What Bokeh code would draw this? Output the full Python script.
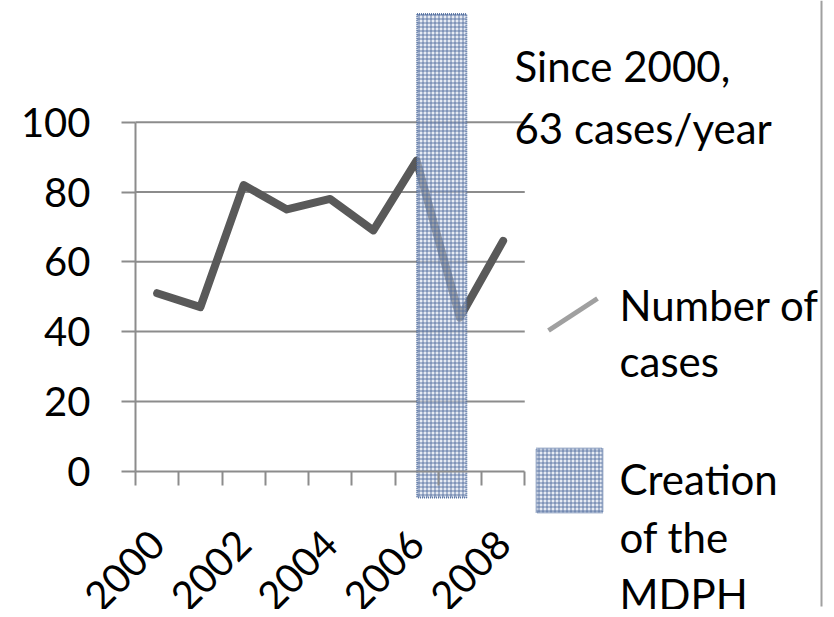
import math
from bokeh.plotting import figure
from bokeh.models import LinearAxis, FixedTicker, Range1d
from bokeh.core.properties import value
from bokeh.embed import file_html
from bokeh.resources import INLINE

# ---------------- data ----------------
years = [2000, 2001, 2002, 2003, 2004, 2005, 2006, 2007, 2008]
cases = [51, 47, 82, 75, 78, 69, 89, 44, 66]
x_tick_labels = ["2000", "2002", "2004", "2006", "2008"]
y_ticks = [0, 20, 40, 60, 80, 100]
grid_values = [20, 40, 60, 80, 100]
mdph_center = [2006.58]
mdph_width = [1.14]
mdph_top = [131]
mdph_bottom = [-7.5]
note_lines = ["Since 2000,", "63 cases/year"]
legend_line_text = ["Number of", "cases"]
legend_bar_text = ["Creation", "of the", "MDPH"]

# ---------------- layout ----------------
W, H = 826, 609
X0_PX = 135.0          # px of the left category edge (1999.5)
PX_PER_YEAR = 43.25
Y0_PX = 470.7          # px (from top) of value 0
PX_PER_UNIT = 3.49

x_start = 1999.5 - X0_PX / PX_PER_YEAR
x_end = x_start + W / PX_PER_YEAR
y_end = Y0_PX / PX_PER_UNIT
y_start = y_end - H / PX_PER_UNIT


def fx(px):  # pixel -> data x
    return x_start + px / PX_PER_YEAR


def fy(py):  # pixel (from top) -> data y
    return y_end - py / PX_PER_UNIT


FONT = "Lato"
FS = "42px"
TICK_FS = "40px"
GRID_COLOR = "#8c8c8c"

p = figure(width=W, height=H, x_range=Range1d(x_start, x_end),
           y_range=Range1d(y_start, y_end), output_backend="svg",
           toolbar_location=None, x_axis_location=None, y_axis_location=None,
           min_border=0, outline_line_color=None)
p.grid.visible = False
p.background_fill_color = "white"
p.border_fill_color = "white"

cat_left = years[0] - 0.5
cat_right = years[-1] + 0.5

# gridlines
p.segment(x0=[cat_left] * len(grid_values), x1=[cat_right] * len(grid_values),
          y0=grid_values, y1=grid_values, line_color=GRID_COLOR, line_width=2)

# axes
yaxis = LinearAxis(fixed_location=cat_left, bounds=(0, 100),
                   ticker=FixedTicker(ticks=y_ticks),
                   axis_line_color=GRID_COLOR, axis_line_width=2,
                   major_tick_line_color=GRID_COLOR, major_tick_line_width=2,
                   major_tick_out=14, major_tick_in=0,
                   minor_tick_line_color=None,
                   major_label_standoff=31,
                   major_label_text_font=FONT, major_label_text_font_size=TICK_FS,
                   major_label_text_color="black")
p.add_layout(yaxis, "left")

xticks = [int(s) for s in x_tick_labels]
xaxis = LinearAxis(fixed_location=0, bounds=(cat_left, cat_right),
                   ticker=FixedTicker(ticks=xticks,
                                      minor_ticks=[y - 0.5 for y in years] + [cat_right]),
                   major_label_overrides={t: s for t, s in zip(xticks, x_tick_labels)},
                   axis_line_color=GRID_COLOR, axis_line_width=2,
                   major_tick_line_color=None,
                   minor_tick_line_color=GRID_COLOR, minor_tick_line_width=2,
                   minor_tick_out=14, minor_tick_in=0,
                   major_label_orientation=math.pi / 4,
                   major_label_standoff=52,
                   major_label_text_font=FONT, major_label_text_font_size=TICK_FS,
                   major_label_text_color="black")
p.add_layout(xaxis, "below")

# data line
p.line(years, cases, line_width=8, line_color="#595959",
       line_join="round", line_cap="round")

BAR_STYLE = dict(fill_color="#d3dbea", fill_alpha=0.55,
                 hatch_pattern="+", hatch_color="#4e6a9c", hatch_scale=4,
                 hatch_weight=1, hatch_alpha=0.85,
                 line_color="#4e6a9c", line_dash="1 1", line_width=2, line_alpha=0.9)

# MDPH bar
p.vbar(x=mdph_center, width=mdph_width, top=mdph_top, bottom=mdph_bottom, **BAR_STYLE)

# note text
note_y = [65, 127]
p.text(x=[fx(514)] * 2, y=[fy(v) for v in note_y], text=note_lines,
       text_font=value(FONT), text_font_size=FS, text_color="black",
       text_align="left", text_baseline="alphabetic")

# legend: line sample
p.line([fx(548), fx(597)], [fy(330), fy(298)], line_color="#a0a0a0", line_width=5)
lt_y = [304, 360]
p.text(x=[fx(619)] * 2, y=[fy(v) for v in lt_y], text=legend_line_text,
       text_font=value(FONT), text_font_size=FS, text_color="black",
       text_align="left", text_baseline="alphabetic")

# legend: bar sample
p.quad(left=[fx(536)], right=[fx(602)], top=[fy(448)], bottom=[fy(512)], **BAR_STYLE)
bt_y = [478, 536, 593]
p.text(x=[fx(619)] * 3, y=[fy(v) for v in bt_y], text=legend_bar_text,
       text_font=value(FONT), text_font_size=FS, text_color="black",
       text_align="left", text_baseline="alphabetic")

# right border line
p.line([fx(821), fx(821)], [fy(0), fy(606)], line_color="#a0a0a0", line_width=2)

open("out.html", "w").write(file_html(p, INLINE))
